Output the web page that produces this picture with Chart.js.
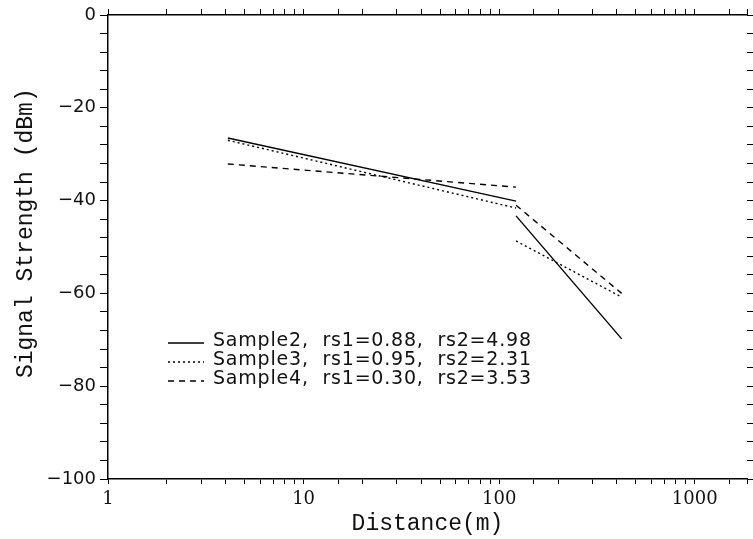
<!DOCTYPE html>
<html>
<head>
<meta charset="utf-8">
<script src="https://cdn.jsdelivr.net/npm/chart.js@4/dist/chart.umd.min.js"></script>
<style>
  html, body { margin: 0; padding: 0; background: #fff; }
  #wrap { width: 753px; height: 539px; }
</style>
</head>
<body>
<div id="wrap"><canvas id="signalChart"></canvas></div>
<script>
// distances (m) where each fitted segment starts and ends
const nearDistance = [4.1, 122];
const farDistance = [122, 423];

// signal strength (dBm) at those distances
const sample2Near = [-26.5, -40.1];
const sample2Far = [-43.3, -69.8];
const sample3Near = [-27.0, -41.6];
const sample3Far = [-48.7, -60.8];
const sample4Near = [-32.1, -37.1];
const sample4Far = [-41.0, -60.0];

const sampleLabels = [
    'Sample2,  rs1=0.88,  rs2=4.98',
    'Sample3,  rs1=0.95,  rs2=2.31',
    'Sample4,  rs1=0.30,  rs2=3.53'
];
const xTickLabels = [1, 10, 100, 1000];

function segments(near, far) {
    return [
        { x: nearDistance[0], y: near[0] },
        { x: nearDistance[1], y: near[1] },
        { x: farDistance[0], y: null },
        { x: farDistance[0], y: far[0] },
        { x: farDistance[1], y: far[1] }
    ];
}

const lineStyles = [[], [2, 3], [6, 5]];
const series = [
    segments(sample2Near, sample2Far),
    segments(sample3Near, sample3Far),
    segments(sample4Near, sample4Far)
];

const datasets = series.map((data, i) => ({
    label: sampleLabels[i],
    data: data,
    borderColor: '#000',
    borderWidth: 1.4,
    borderDash: lineStyles[i],
    pointRadius: 0,
    spanGaps: false,
    tension: 0
}));

// legend drawn inside the plot, like the original figure
const innerLegend = {
    id: 'innerLegend',
    afterDatasetsDraw(chart) {
        const ctx = chart.ctx;
        ctx.save();
        ctx.font = '19px "DejaVu Sans"';
        ctx.letterSpacing = '0.8px';
        ctx.fillStyle = '#111';
        ctx.textBaseline = 'middle';
        chart.data.datasets.forEach((ds, i) => {
            const y = 341 + i * 19;
            ctx.beginPath();
            ctx.strokeStyle = '#000';
            ctx.lineWidth = 1.3;
            ctx.setLineDash(ds.borderDash);
            ctx.moveTo(168, y + 2);
            ctx.lineTo(204, y + 2);
            ctx.stroke();
            ctx.setLineDash([]);
            ctx.fillText(ds.label, 213, y);
        });
        ctx.restore();
    }
};

const ctx = document.getElementById('signalChart').getContext('2d');
const myChart = new Chart(ctx, {
    type: 'line',
    data: { datasets },
    plugins: [innerLegend],
    options: {
        responsive: true,
        maintainAspectRatio: false,
        animation: false,
        layout: { padding: 0 },
        plugins: {
            legend: { display: false },
            tooltip: { enabled: false }
        },
        scales: {
            x: {
                type: 'logarithmic',
                position: 'bottom',
                min: 1,
                max: 1850,
                afterFit: s => { s.height = 60; },
                border: { color: '#000', width: 1.5 },
                grid: { drawOnChartArea: false, tickLength: 5, color: '#000' },
                ticks: {
                    autoSkip: false,
                    maxRotation: 0,
                    padding: 5,
                    color: '#111',
                    font: { family: 'DejaVu Serif', size: 18 },
                    callback: v => xTickLabels.includes(v) ? String(v) : ''
                },
                title: {
                    display: true,
                    text: 'Distance(m)',
                    color: '#111',
                    font: { family: 'Liberation Mono', size: 23 },
                    padding: { top: 0, bottom: 1 }
                }
            },
            x2: {
                type: 'logarithmic',
                position: 'top',
                min: 1,
                max: 1850,
                afterFit: s => { s.height = 15; },
                border: { color: '#000', width: 1.5 },
                grid: { drawOnChartArea: false, tickLength: 6, color: '#000' },
                ticks: { display: false }
            },
            y: {
                type: 'linear',
                position: 'left',
                min: -100,
                max: 0,
                afterFit: s => { s.width = 108; },
                border: { color: '#000', width: 1.5 },
                grid: { drawOnChartArea: false, tickLength: 8, color: '#000' },
                ticks: {
                    stepSize: 4,
                    autoSkip: false,
                    padding: 4,
                    color: '#111',
                    font: { family: 'DejaVu Sans', size: 18 },
                    callback: v => v % 20 === 0 ? (v < 0 ? '\u2212' + (-v) : String(v)) : ''
                },
                title: {
                    display: true,
                    text: '  Signal Strength (dBm)',
                    color: '#111',
                    font: { family: 'Liberation Mono', size: 23 },
                    padding: { top: 12, bottom: 0 }
                }
            },
            y2: {
                type: 'linear',
                position: 'right',
                min: -100,
                max: 0,
                afterFit: s => { s.width = 6; },
                border: { display: false },
                grid: { drawOnChartArea: false, tickLength: 6, color: '#000' },
                ticks: { display: false, stepSize: 4 }
            }
        }
    }
});
</script>
</body>
</html>
